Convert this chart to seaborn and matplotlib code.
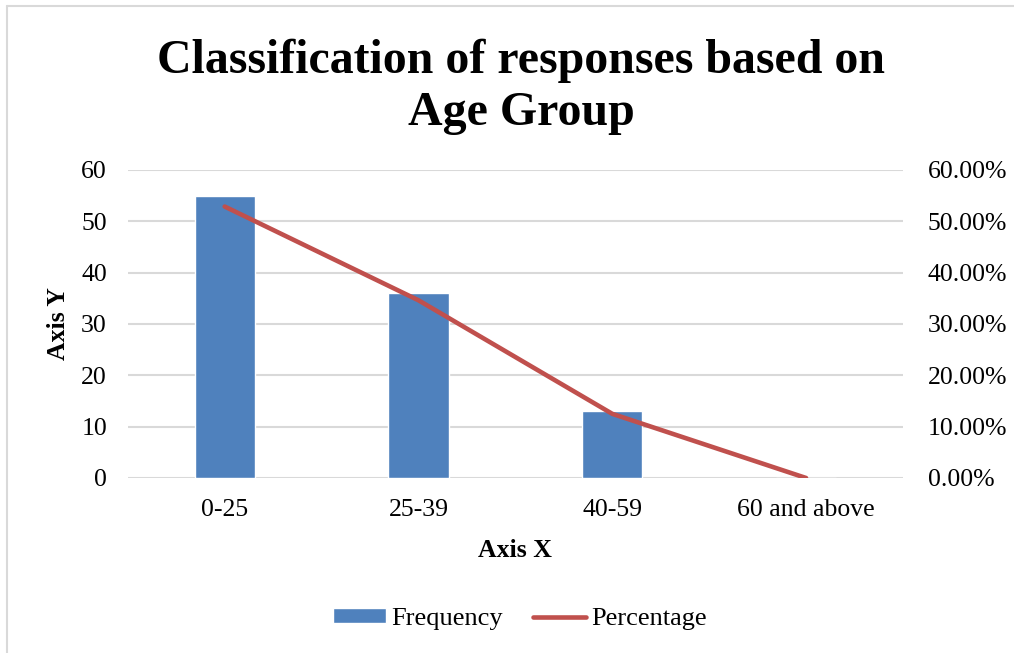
import matplotlib
matplotlib.use("Agg")
import matplotlib.pyplot as plt
from matplotlib.lines import Line2D
from matplotlib.patches import Patch
from matplotlib.ticker import PercentFormatter
import seaborn as sns
import pandas as pd

# Survey responses by age group
age_groups = ["0-25", "25-39", "40-59", "60 and above"]
frequency = [55, 36, 13, 0]
percentage = [0.5288, 0.3462, 0.1250, 0.0]

sns.set_theme(style="white")
plt.rcParams["font.family"] = ["Liberation Serif", "DejaVu Serif"]
plt.rcParams["text.color"] = "black"
plt.rcParams["axes.labelcolor"] = "black"

BAR_COLOR = "#4f81bd"
LINE_COLOR = "#c0504d"
GRID_COLOR = "#d9d9d9"
TICK_SIZE = 18.5
LABEL_SIZE = 18.5

df = pd.DataFrame({"group": age_groups, "freq": frequency, "pct": percentage})

fig = plt.figure(figsize=(10.14, 6.53), dpi=100)
ax = fig.add_axes([0.126, 0.268, 0.7645, 0.4717])

sns.barplot(data=df, x="group", y="freq", color=BAR_COLOR, width=0.31,
            saturation=1, ax=ax, zorder=2)
ax.set_xlim(-0.5, 3.5)
ax.set_ylim(0, 60)
ax.set_yticks(range(0, 61, 10))
ax.yaxis.grid(True, color=GRID_COLOR, linewidth=1.5, zorder=0)
ax.set_axisbelow(True)
for s in ax.spines.values():
    s.set_visible(False)
ax.tick_params(axis="both", length=0, labelsize=TICK_SIZE, colors="black")
ax.tick_params(axis="y", pad=15)
ax.tick_params(axis="x", pad=15)
ax.set_xlabel("Axis X", fontsize=LABEL_SIZE, fontweight="bold", labelpad=13)
ax.set_ylabel("Axis Y", fontsize=LABEL_SIZE, fontweight="bold", labelpad=8)

ax2 = ax.twinx()
sns.lineplot(data=df, x="group", y="pct", color=LINE_COLOR, linewidth=3.3,
             ax=ax2, solid_capstyle="round", zorder=3)
ax2.set_ylim(0, 0.6)
ax2.set_yticks([i / 10 for i in range(7)])
ax2.yaxis.set_major_formatter(PercentFormatter(xmax=1, decimals=2))
ax2.set_ylabel("")
for s in ax2.spines.values():
    s.set_visible(False)
ax2.tick_params(axis="y", length=0, labelsize=TICK_SIZE, colors="black", pad=18)

fig.text(0.514, 1 - 87 / 653, "Classification of responses based on\nAge Group",
         fontsize=34.5, fontweight="bold", ha="center", va="center",
         linespacing=1.24, color="black")

handles = [Patch(facecolor=BAR_COLOR, label="Frequency"),
           Line2D([0], [0], color=LINE_COLOR, linewidth=3.3,
                  solid_capstyle="round", label="Percentage")]
fig.legend(handles=handles, loc="center", bbox_to_anchor=(0.513, 1 - 619 / 653),
           ncol=2, frameon=False, fontsize=19, handlelength=2.0,
           handleheight=0.5, handletextpad=0.2, columnspacing=1.15)

# chart frame
fig.add_artist(Line2D([7 / 1014, 7 / 1014], [0, 1 - 6 / 653],
                      transform=fig.transFigure, color=GRID_COLOR, linewidth=1.5))
fig.add_artist(Line2D([7 / 1014, 1], [1 - 6 / 653, 1 - 6 / 653],
                      transform=fig.transFigure, color=GRID_COLOR, linewidth=1.5))

fig.savefig("out.png", dpi=100)
